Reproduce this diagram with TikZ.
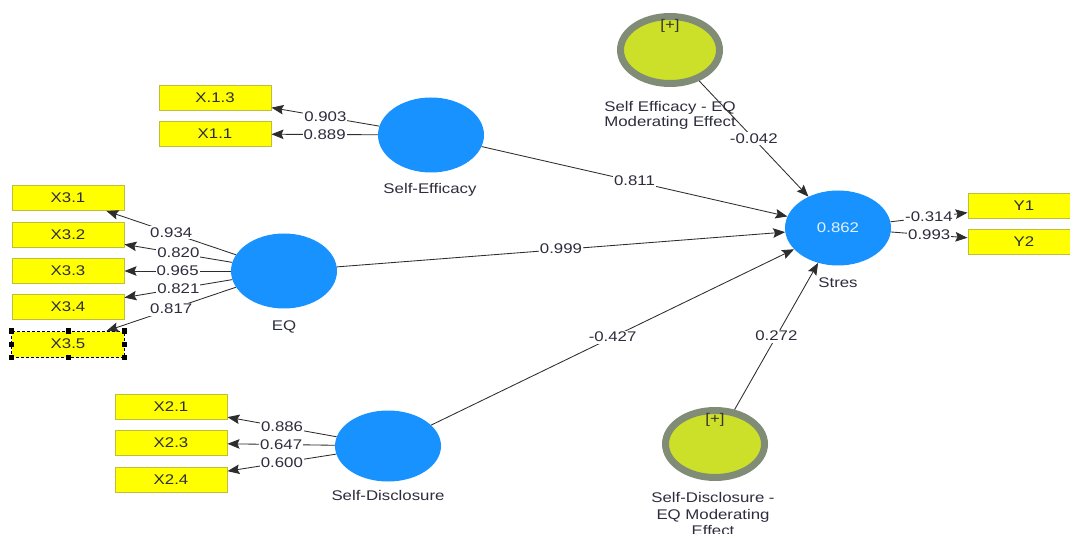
\documentclass[tikz,border=0pt]{standalone}
\usepackage{fontspec}
\setmainfont[FakeStretch=1.2]{Liberation Sans}
\usepackage{tikz}
\usetikzlibrary{arrows.meta, shapes.geometric, positioning}
\definecolor{lvblue}{RGB}{24,146,255}
\definecolor{indyellow}{RGB}{255,255,0}
\definecolor{indborder}{RGB}{190,190,60}
\definecolor{modfill}{RGB}{204,224,42}
\definecolor{modring}{RGB}{128,140,118}
\definecolor{txtgray}{RGB}{45,45,62}
\definecolor{linegray}{RGB}{45,45,45}

\begin{document}
\begin{tikzpicture}[x=1pt,y=-1pt,
    font=\fontsize{14}{15}\selectfont,
    latent/.style={ellipse, fill=lvblue, minimum width=106pt, minimum height=75pt, inner sep=0pt},
    moder/.style={ellipse, fill=modfill, draw=modring, line width=7pt, minimum width=99pt, minimum height=67pt, inner sep=0pt},
    indic/.style={rectangle, fill=indyellow, draw=indborder, line width=1pt, minimum width=112pt, minimum height=25pt, inner sep=0pt, text=txtgray},
    lbl/.style={text=txtgray, text height=10pt, text depth=3pt, inner sep=0pt},
    modlbl/.style={text=txtgray, align=center, inner sep=0pt},
    coef/.style={pos=0.5, fill=white, text=txtgray, inner sep=1pt, text height=10pt, text depth=1pt},
    arr/.style={draw=linegray, line width=0.85pt, -{Stealth[length=12pt,width=9.5pt,inset=2pt]}}
  ]

  % Khung hình
  \useasboundingbox (0,0) rectangle (1070,534);
  \fill[white] (0,0) rectangle (1070,534);

  % Vẽ các biến tiềm ẩn
  \node[latent] (se) at (431,135) {};
  \node[latent] (eq) at (284,271) {};
  \node[latent, minimum height=71pt] (sd) at (388,446) {};
  \node[latent, text=white!88!lvblue] (st) at (838,228) {0.862};
  \node[moder] (m1) at (670,50) {};
  \node[moder] (m2) at (715,444) {};

  % Tên các biến
  \node[lbl] (selbl) at (430,190) {Self-Efficacy};
  \node[lbl] (eqlbl) at (284,327) {EQ};
  \node[lbl] (sdlbl) at (388,497) {Self-Disclosure};
  \node[lbl] (stlbl) at (838,284) {Stres};
  \node[modlbl] (m1lbl) at (670,115) {Self Efficacy - EQ\\Moderating Effect};
  \node[modlbl, font=\fontsize{14}{16.5}\selectfont] (m2lbl) at (713,514) {Self-Disclosure -\\EQ Moderating\\Effect};
  \node[text=black!80!olive, inner sep=0pt] (m1p) at ([yshift=-13pt]m1.north) {[+]};
  \node[text=black!80!olive, inner sep=0pt] (m2p) at ([yshift=-13pt]m2.north) {[+]};

  % Các biến quan sát
  \node[indic] (x13) at (215,98) {X.1.3};
  \node[indic] (x11) at (215,134) {X1.1};
  \node[indic] (x31) at (68,198) {X3.1};
  \node[indic] (x32) at (68,235) {X3.2};
  \node[indic] (x33) at (68,271) {X3.3};
  \node[indic] (x34) at (68,307) {X3.4};
  \node[indic, draw=none] (x35) at (68,344) {X3.5};
  \node[indic] (x21) at (171,407) {X2.1};
  \node[indic] (x23) at (171,443) {X2.3};
  \node[indic] (x24) at (171,480) {X2.4};
  \node[indic] (y1) at (1024,206) {Y1};
  \node[indic] (y2) at (1024,242) {Y2};

  % Khung chọn X3.5
  \draw[densely dashed, line width=0.9pt] (x35.north west) rectangle (x35.south east);
  \foreach \a in {north west, north, north east, west, east, south west, south, south east}
    \fill ([shift={(-2.5,-2.5)}]x35.\a) rectangle ++(5,5);

  % Hệ số tải ngoài
  \draw[arr] (se) -- node[coef] {0.903} (x13);
  \draw[arr] (se) -- node[coef] {0.889} (x11);
  \draw[arr] (eq) -- node[coef] {0.934} (x31);
  \draw[arr] (eq) -- node[coef] {0.820} (x32);
  \draw[arr] (eq) -- node[coef] {0.965} (x33);
  \draw[arr] (eq) -- node[coef] {0.821} (x34);
  \draw[arr] (eq) -- node[coef] {0.817} (x35);
  \draw[arr] (sd) -- node[coef] {0.886} (x21);
  \draw[arr] (sd) -- node[coef] {0.647} (x23);
  \draw[arr] (sd) -- node[coef] {0.600} (x24);
  \draw[arr] (st) -- node[coef] {-0.314} (y1);
  \draw[arr] (st) -- node[coef] {0.993} (y2);

  % Hệ số đường dẫn
  \draw[arr] (se) -- node[coef] {0.811} (st);
  \draw[arr] (eq) -- node[coef] {0.999} (st);
  \draw[arr] (sd) -- node[coef] {-0.427} (st);
  \draw[arr] (m1) -- node[coef] {-0.042} (st);
  \draw[arr] (m2) -- node[coef] {0.272} (st);

\end{tikzpicture}
\end{document}
